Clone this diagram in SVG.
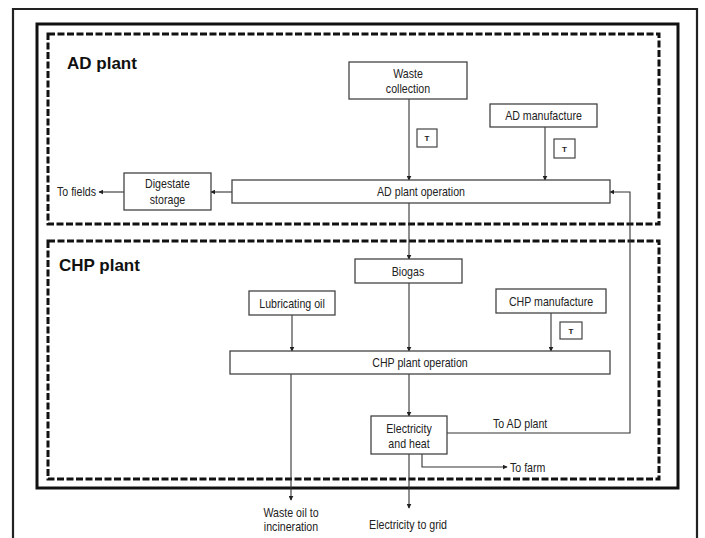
<svg xmlns="http://www.w3.org/2000/svg" width="705" height="538" viewBox="0 0 705 538">
<defs>
<marker id="ah" viewBox="0 0 8 8" refX="7" refY="4" markerWidth="5" markerHeight="5" orient="auto" markerUnits="userSpaceOnUse">
<path d="M0,0 L8,4 L0,8 Z" fill="#222"/>
</marker>
</defs>
<style>
.box{fill:#fff;stroke:#444;stroke-width:1.3}
.tbox{fill:#fff;stroke:#444;stroke-width:1.2}
.t{font-family:"Liberation Sans",Arial,sans-serif;font-size:12.5px;fill:#222;text-anchor:middle}
.tl{font-family:"Liberation Sans",Arial,sans-serif;font-size:12.5px;fill:#222}
.ts{font-family:"Liberation Sans",Arial,sans-serif;font-size:8px;fill:#222;text-anchor:middle;font-weight:bold}
.h{font-family:"Liberation Sans",Arial,sans-serif;font-size:17px;font-weight:bold;fill:#111}
.dash{fill:none;stroke:#111;stroke-width:3;stroke-dasharray:7 2.5}
.ln{fill:none;stroke:#333;stroke-width:1.1}
</style>
<rect x="0" y="0" width="705" height="538" fill="#fff"/>
<g id="frames">
<path d="M13,540 V9 H697 V540" fill="none" stroke="#222" stroke-width="2.2"/>
<rect x="37" y="24" width="641" height="464" fill="none" stroke="#111" stroke-width="3"/>
</g>
<g id="ad-plant">
<rect class="dash" x="48" y="34" width="611" height="190"/>
<text class="h" x="67" y="69">AD plant</text>
</g>
<g id="chp-plant">
<rect class="dash" x="48" y="241" width="611" height="238"/>
<text class="h" x="59" y="271">CHP plant</text>
</g>
<g id="connectors">
<line class="ln" x1="409" y1="99" x2="409" y2="180" marker-end="url(#ah)"/>
<line class="ln" x1="545" y1="127" x2="545" y2="180" marker-end="url(#ah)"/>
<line class="ln" x1="232" y1="192" x2="211" y2="192" marker-end="url(#ah)"/>
<line class="ln" x1="124" y1="192" x2="99" y2="192" marker-end="url(#ah)"/>
<line class="ln" x1="409" y1="203" x2="409" y2="259" marker-end="url(#ah)"/>
<line class="ln" x1="409" y1="283" x2="409" y2="351" marker-end="url(#ah)"/>
<line class="ln" x1="292" y1="315" x2="292" y2="351" marker-end="url(#ah)"/>
<line class="ln" x1="551" y1="313" x2="551" y2="351" marker-end="url(#ah)"/>
<line class="ln" x1="409" y1="374" x2="409" y2="416" marker-end="url(#ah)"/>
<polyline class="ln" points="447,433 630,433 630,192 610,192" marker-end="url(#ah)"/>
<polyline class="ln" points="422,454 422,467 507,467" marker-end="url(#ah)"/>
<line class="ln" x1="291" y1="374" x2="291" y2="500" marker-end="url(#ah)"/>
<line class="ln" x1="409" y1="454" x2="409" y2="508" marker-end="url(#ah)"/>
</g>
<g id="waste-collection">
<rect class="box" x="349" y="62" width="118" height="37"/>
<text class="t" transform="translate(408,78) scale(0.85,1)">Waste</text>
<text class="t" transform="translate(408,93) scale(0.85,1)">collection</text>
</g>
<g id="t1">
<rect class="tbox" x="417" y="129" width="20" height="18"/>
<text class="ts" x="427" y="141">T</text>
</g>
<g id="ad-manufacture">
<rect class="box" x="490" y="104" width="107" height="23"/>
<text class="t" transform="translate(543.5,120) scale(0.85,1)">AD manufacture</text>
</g>
<g id="t2">
<rect class="tbox" x="554" y="139" width="21" height="19"/>
<text class="ts" x="564.5" y="151.5">T</text>
</g>
<g id="ad-plant-operation">
<rect class="box" x="232" y="180" width="378" height="23"/>
<text class="t" transform="translate(421,196) scale(0.85,1)">AD plant operation</text>
</g>
<g id="digestate-storage">
<rect class="box" x="124" y="173" width="87" height="37"/>
<text class="t" transform="translate(167.5,188) scale(0.85,1)">Digestate</text>
<text class="t" transform="translate(167.5,204) scale(0.85,1)">storage</text>
</g>
<g id="to-fields">
<text class="tl" transform="translate(57,196) scale(0.85,1)">To fields</text>
</g>
<g id="biogas">
<rect class="box" x="355" y="259" width="107" height="24"/>
<text class="t" transform="translate(408,275.5) scale(0.85,1)">Biogas</text>
</g>
<g id="lubricating-oil">
<rect class="box" x="249" y="291" width="86" height="24"/>
<text class="t" transform="translate(292,307.5) scale(0.85,1)">Lubricating oil</text>
</g>
<g id="chp-manufacture">
<rect class="box" x="496" y="289" width="110" height="24"/>
<text class="t" transform="translate(551,305.5) scale(0.85,1)">CHP manufacture</text>
</g>
<g id="t3">
<rect class="tbox" x="560" y="322" width="22" height="17"/>
<text class="ts" x="571" y="333.5">T</text>
</g>
<g id="chp-plant-operation">
<rect class="box" x="230" y="351" width="380" height="23"/>
<text class="t" transform="translate(420,367) scale(0.85,1)">CHP plant operation</text>
</g>
<g id="electricity-heat">
<rect class="box" x="371" y="416" width="76" height="38"/>
<text class="t" transform="translate(409,432.5) scale(0.85,1)">Electricity</text>
<text class="t" transform="translate(409,447.5) scale(0.85,1)">and heat</text>
</g>
<g id="to-ad-plant">
<text class="tl" transform="translate(493,427.5) scale(0.85,1)">To AD plant</text>
</g>
<g id="to-farm">
<text class="tl" transform="translate(510,471.5) scale(0.85,1)">To farm</text>
</g>
<g id="waste-oil">
<text class="t" transform="translate(291,516.5) scale(0.85,1)">Waste oil to</text>
<text class="t" transform="translate(291,530.5) scale(0.85,1)">incineration</text>
</g>
<g id="electricity-grid">
<text class="t" transform="translate(408,528.5) scale(0.85,1)">Electricity to grid</text>
</g>
</svg>
